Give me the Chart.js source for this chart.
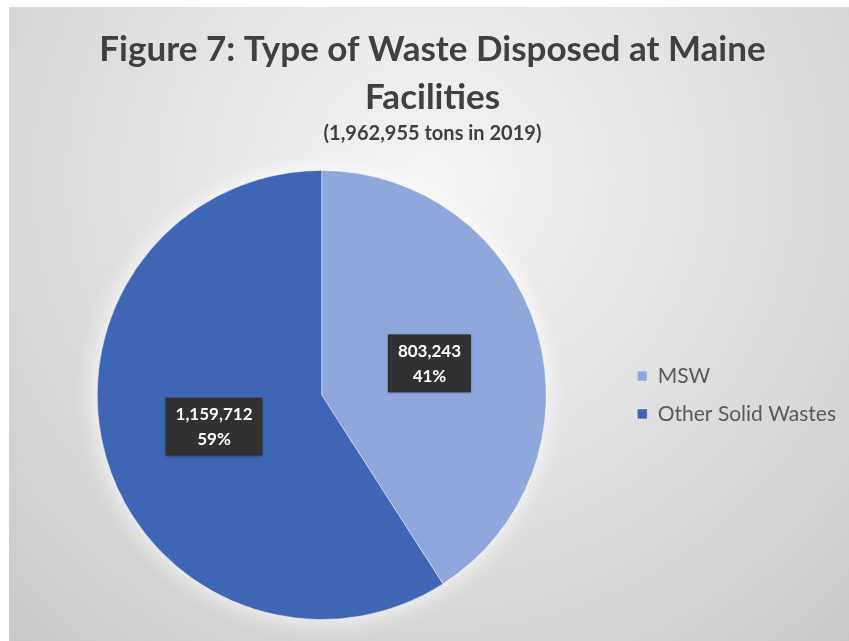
<!DOCTYPE html>
<html>
<head>
<meta charset="utf-8">
<script src="https://cdn.jsdelivr.net/npm/chart.js@4.4.0/dist/chart.umd.min.js"></script>
<style>
  html, body { margin: 0; padding: 0; background: #fff; }
  #wrap { width: 849px; height: 641px; }
</style>
</head>
<body>
<div id="wrap"><canvas id="canvas"></canvas></div>
<script>
var categories = ['MSW', 'Other Solid Wastes'];
var tons = [803243, 1159712];
var sliceColors = ['#8fa7dc', '#3f65b5'];
var titleLines = ['Figure 7: Type of Waste Disposed at Maine', 'Facilities'];
var subtitleText = '(1,962,955 tons in 2019)';

// gray radial backdrop, white strip on the left/top
var backdrop = {
    id: 'backdrop',
    beforeDraw: function(chart) {
        var ctx = chart.ctx;
        ctx.save();
        ctx.fillStyle = '#ffffff';
        ctx.fillRect(0, 0, chart.width, chart.height);
        var g = ctx.createRadialGradient(430, 180, 0, 430, 180, 620);
        g.addColorStop(0, '#f4f4f4');
        g.addColorStop(0.36, '#e6e6e6');
        g.addColorStop(0.72, '#d7d7d7');
        g.addColorStop(1, '#c8c8c8');
        ctx.fillStyle = g;
        ctx.fillRect(9, 7, chart.width - 9, chart.height - 7);
        ctx.restore();
    }
};

// nudge the title blocks horizontally
var titleShift = {
    id: 'titleShift',
    afterLayout: function(chart) {
        chart.boxes.forEach(function(b) {
            if (b.position === 'top') {
                b.left -= 2;
                b.right -= 2;
            }
        });
    }
};

// soft white glow behind the pie
var glow = {
    id: 'glow',
    beforeDatasetsDraw: function(chart) {
        var arc = chart.getDatasetMeta(0).data[0];
        if (!arc) return;
        var ctx = chart.ctx;
        ctx.save();
        ctx.shadowColor = 'rgba(255,255,255,0.95)';
        ctx.shadowBlur = 24;
        ctx.fillStyle = '#ffffff';
        ctx.beginPath();
        ctx.arc(arc.x, arc.y, arc.outerRadius, 0, Math.PI * 2);
        ctx.fill();
        ctx.restore();
    }
};

// dark callout boxes with value and percent
var callouts = {
    id: 'callouts',
    afterDatasetsDraw: function(chart) {
        var ctx = chart.ctx;
        var data = chart.data.datasets[0].data;
        var total = data.reduce(function(a, b) { return a + b; }, 0);
        ctx.save();
        ctx.font = 'bold 17px Lato';
        ctx.textAlign = 'center';
        ctx.textBaseline = 'middle';
        chart.getDatasetMeta(0).data.forEach(function(arc, i) {
            var p = arc.getCenterPoint();
            var l1 = data[i].toLocaleString('en-US');
            var l2 = Math.round(data[i] / total * 100) + '%';
            var w = Math.max(ctx.measureText(l1).width, ctx.measureText(l2).width) + 20;
            var h = 58;
            ctx.shadowColor = 'rgba(0,0,0,0.35)';
            ctx.shadowBlur = 3;
            ctx.shadowOffsetY = 1;
            ctx.fillStyle = '#313131';
            ctx.fillRect(p.x - w / 2, p.y - h / 2, w, h);
            ctx.shadowColor = 'transparent';
            ctx.fillStyle = '#ffffff';
            ctx.fillText(l1, p.x, p.y - 12);
            ctx.fillText(l2, p.x, p.y + 13);
        });
        ctx.restore();
    }
};

var ctx = document.getElementById('canvas');
var chart = new Chart(ctx, {
    type: 'pie',
    data: {
        labels: categories,
        datasets: [{
            data: tons,
            backgroundColor: sliceColors,
            borderColor: 'rgba(255,255,255,0.45)',
            borderWidth: 1
        }]
    },
    options: {
        responsive: true,
        maintainAspectRatio: false,
        animation: false,
        layout: { padding: { left: 23, right: 3, top: 0, bottom: 21 } },
        plugins: {
            title: {
                display: true,
                text: titleLines,
                color: '#404040',
                font: { family: 'Lato', size: 35, weight: 'bold', lineHeight: 1.371 },
                padding: { top: 26, bottom: 0 }
            },
            subtitle: {
                display: true,
                text: subtitleText,
                color: '#404040',
                font: { family: 'Lato', size: 20, weight: 'bold', lineHeight: 1.2 },
                padding: { top: 0, bottom: 24 }
            },
            legend: {
                position: 'right',
                fullSize: false,
                labels: {
                    boxWidth: 10,
                    boxHeight: 10,
                    padding: 16.8,
                    color: '#595959',
                    font: { family: 'Lato', size: 21 }
                }
            },
            tooltip: { enabled: false }
        }
    },
    plugins: [backdrop, titleShift, glow, callouts]
});
</script>
</body>
</html>
